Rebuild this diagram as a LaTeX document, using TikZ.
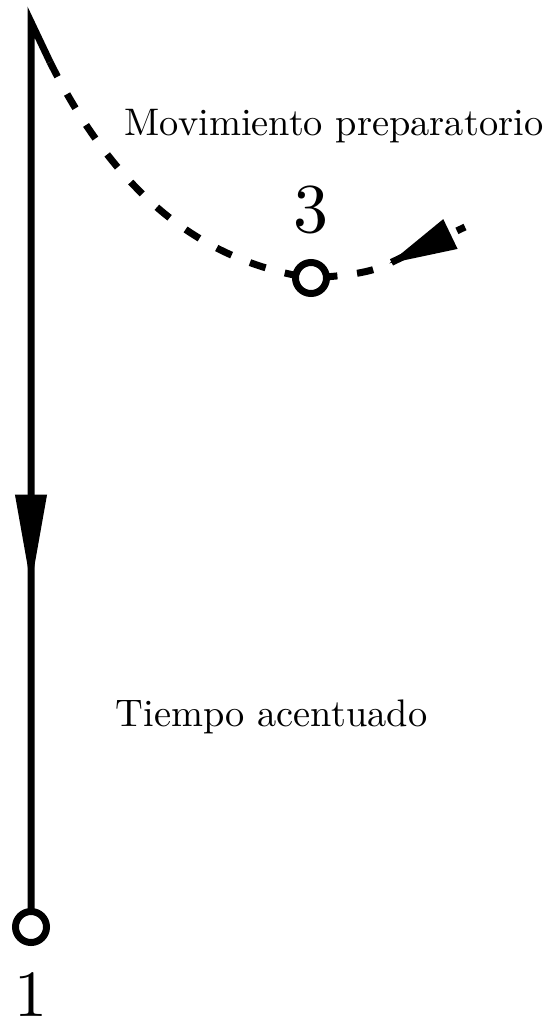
\documentclass[tikz,border=0pt]{standalone}
\usepackage{fontspec}
\setmainfont{lmroman10-regular.otf}
\usepackage{tikz}
\usetikzlibrary{arrows.meta}
\usetikzlibrary{positioning}
\usetikzlibrary{decorations.markings}
\tikzstyle{gesture} = [line width=7pt]
\tikzstyle{prep} = [line width=7pt, dash pattern=on 16.5pt off 19.8pt]
\tikzstyle{beat} = [draw, circle, line width=7pt, minimum size=31pt, inner sep=0pt, fill=white]
\tikzstyle{beatnum} = [inner sep=0pt, font=\fontsize{70}{70}\selectfont]
\tikzstyle{label} = [anchor=base, inner sep=0pt, font=\fontsize{38.4}{40}\selectfont]

\begin{document}
\begin{tikzpicture}[x=1pt,y=1pt]
			
				\useasboundingbox (0,0) rectangle (548,-1018);
				
				% Points of the gesture
				\coordinate (apex) at (31,-22);
				\coordinate (start) at (50,-62);
				\coordinate (p3) at (311,-278);
				\coordinate (bend) at (387,-264.5);
				\coordinate (p1) at (31,-927);
				\coordinate (end) at (465,-227);
				
				% Downbeat
				\draw[gesture, decoration={markings, mark=at position 609pt with {\arrow{Triangle[length=92pt, width=30pt]}}}, postaction={decorate}]
				(start) -- (apex) -- (p1);
				
				% Preparation
				\draw[prep] (start) .. controls (110,-182) and (191,-260) .. (p3);
				\draw[prep, dash phase=26.3pt, decoration={markings, mark=at position 79pt with {\arrowreversed{Triangle[length=69pt, width=31pt]}}}, postaction={decorate, solid}]
				(p3) .. controls (340,-276) and (367,-274) .. (bend) -- (end);
				
				% Beats
				\node[beat] (three) at (p3) {};
				\node[beat] (one) at (p1) {};
				\node[beatnum, above = 25pt of three] (n3) {3};
				\node[beatnum, below = 26pt of one, font=\fontsize{66}{66}\selectfont] (n1) {1};
				
				% Labels
				\node[label] (lprep) at (334,-135) {Movimiento preparatorio};
				\node[label] (lbeat) at (271.5,-726) {Tiempo acentuado};
							
\end{tikzpicture}
\end{document}
